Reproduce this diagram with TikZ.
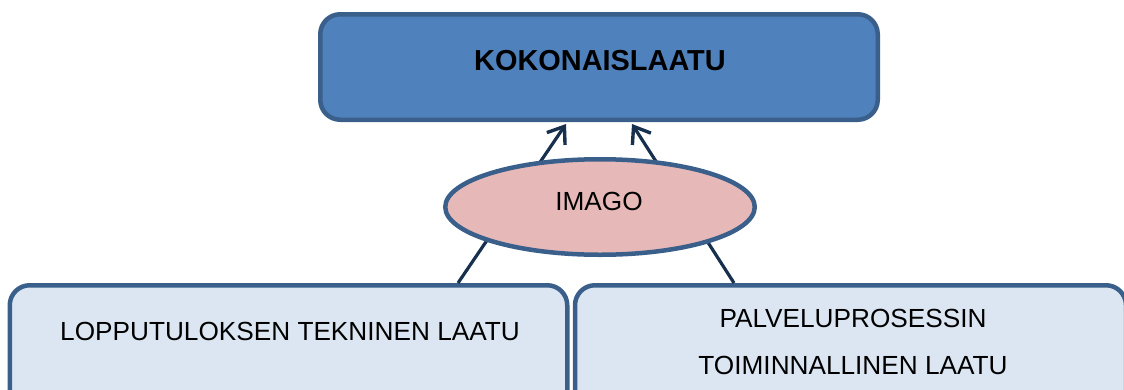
\documentclass[tikz,border=0pt]{standalone}
\usepackage{fontspec}
\setmainfont{Liberation Sans}
\usetikzlibrary{shapes.geometric,arrows.meta}
\definecolor{edgeblue}{HTML}{3A5F8B}
\definecolor{topfill}{HTML}{4F81BD}
\definecolor{imagofill}{HTML}{E6B9B8}
\definecolor{lowfill}{HTML}{DCE6F2}
\definecolor{arrowink}{HTML}{17304E}
\tikzset{
  box/.style={draw=edgeblue, line width=4.5pt, rounded corners=20pt, inner sep=0pt},
  topbox/.style={box, fill=topfill},
  lowbox/.style={box, fill=lowfill},
  imago/.style={ellipse, draw=edgeblue, line width=4.5pt, fill=imagofill, inner sep=0pt},
  txt/.style={anchor=base, inner sep=0pt, font=\fontsize{26.2}{31}\selectfont},
  boldtxt/.style={anchor=base, inner sep=0pt, font=\fontsize{28.9}{34}\selectfont\bfseries},
  influence/.style={draw=arrowink, line width=3.2pt, -{Straight Barb[length=15pt,width=22pt,line width=3.4pt]}}
}
\begin{document}
\begin{tikzpicture}[x=1pt,y=-1pt]
  \useasboundingbox (0,0) rectangle (1124,389);
  \begin{scope}
    \clip (0,0) rectangle (1124,389);
    % boxes
    \node[topbox, minimum width=557.5pt, minimum height=105.5pt] (total) at (599,67) {};
    \node[lowbox, minimum width=557.5pt, minimum height=135pt] (tech) at (288.5,352.75) {};
    \node[lowbox, minimum width=551pt, minimum height=135pt] (func) at (850.5,352.75) {};
    % connectors running behind the image ellipse
    \draw[influence] ([xshift=169.5pt]tech.north) -- ([xshift=-33pt,yshift=-2pt]total.south);
    \draw[influence] ([xshift=-116.5pt]func.north) -- ([xshift=33pt,yshift=-2pt]total.south);
    % image ellipse
    \node[imago, minimum width=309.5pt, minimum height=95.5pt] (img) at (600,207) {};
    % texts
    \node[boldtxt] (totaltxt) at (600,70) {KOKONAISLAATU};
    \node[txt] (imgtxt) at (599,210) {IMAGO};
    \node[txt] (techtxt) at (290,340) {LOPPUTULOKSEN TEKNINEN LAATU};
    \node[txt] (functxt1) at (853,327) {PALVELUPROSESSIN};
    \node[txt] (functxt2) at (853,374) {TOIMINNALLINEN LAATU};
  \end{scope}
\end{tikzpicture}
\end{document}
